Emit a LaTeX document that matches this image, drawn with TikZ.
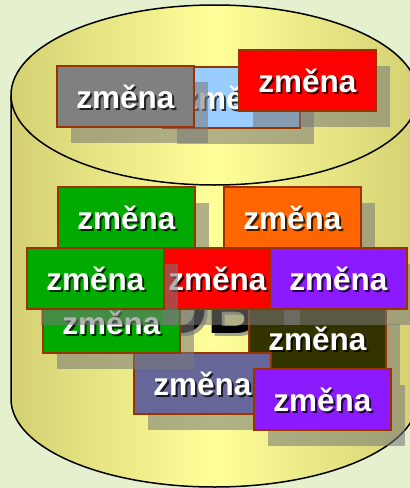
\documentclass[tikz,border=0pt]{standalone}
\usepackage{fontspec}
\setmainfont{Liberation Sans}
\definecolor{bgc}{RGB}{228,240,206}
\definecolor{cylside}{RGB}{212,208,115}
\definecolor{cylmid}{RGB}{255,255,153}
\definecolor{boxborder}{RGB}{153,51,0}
\definecolor{shadowc}{RGB}{120,120,120}
\definecolor{cblue}{RGB}{153,204,255}
\definecolor{cgray}{RGB}{128,128,128}
\definecolor{cred}{RGB}{255,0,0}
\definecolor{cgreen}{RGB}{0,170,0}
\definecolor{corange}{RGB}{255,102,0}
\definecolor{cpurple}{RGB}{140,26,255}
\definecolor{colive}{RGB}{51,51,0}
\definecolor{cslate}{RGB}{102,102,153}
\tikzset{
  chg/.style={draw=boxborder, line width=1.8pt, minimum width=137pt, minimum height=61pt, inner sep=0pt, anchor=north west},
  chgshadow/.style={fill=shadowc, fill opacity=0.57, minimum width=137pt, minimum height=61pt, inner sep=0pt, anchor=north west},
  lbl/.style={text=white, font=\bfseries\fontsize{31.5}{36}\selectfont, inner sep=0pt},
  lblshadow/.style={text=black, text opacity=0.75, font=\bfseries\fontsize{31.5}{36}\selectfont, inner sep=0pt},
  cylline/.style={draw=black, line width=1.5pt},
}
\newcommand\zmenabox[4]{%
  \node[chgshadow] (#1s) at (#2+15,#3+17) {};
  \node[chg, fill=#4] (#1) at (#2,#3) {};
  \node[lblshadow] (#1ts) at ([shift={(2pt,-2pt)}]#1.center) {změna};
  \node[lbl] (#1t) at (#1.center) {změna};
}
\begin{document}
\begin{tikzpicture}[x=1pt, y=-1pt]
\useasboundingbox (0,0) rectangle (410,488);
\clip (0,0) rectangle (410,488);
\fill[bgc] (0,0) rectangle (410,488);
% cylinder body
\shade[left color=cylside, right color=cylside, middle color=cylmid]
  (11,95) rectangle (418,399);
\shade[left color=cylside, right color=cylside, middle color=cylmid]
  (214.5,399) ellipse [x radius=203.5pt, y radius=88pt];
\draw[cylline] (11,95) -- (11,399) arc[start angle=180, end angle=360, x radius=203.5pt, y radius=88pt] -- (418,95);
% top ellipse
\shade[left color=cylside, right color=cylside, middle color=cylmid]
  (214.5,95) ellipse [x radius=203.5pt, y radius=90pt];
\draw[cylline] (214.5,95) ellipse [x radius=203.5pt, y radius=90pt];
% DB label
\node[anchor=base, text=gray, text opacity=0.7, font=\bfseries\fontsize{70}{80}\selectfont, inner sep=0pt] (dbs) at (211,336) {DB};
\node[anchor=base, text=black, font=\bfseries\fontsize{70}{80}\selectfont, inner sep=0pt] (db) at (208,333) {DB};
% top group
\zmenabox{blue}{162}{66}{cblue}
\zmenabox{gray}{56}{65}{cgray}
\zmenabox{redA}{238}{49}{cred}
% second row
\zmenabox{greenA}{57}{186}{cgreen}
\zmenabox{orange}{223}{186}{corange}
% lower group
\zmenabox{olive}{248}{307}{colive}
\zmenabox{slate}{133}{352}{cslate}
\zmenabox{purpleB}{253}{368}{cpurple}
\zmenabox{greenC}{42}{291}{cgreen}
% third row
\zmenabox{redB}{148}{247}{cred}
\zmenabox{greenB}{26}{247}{cgreen}
\zmenabox{purpleA}{269}{247}{cpurple}
\end{tikzpicture}
\end{document}
